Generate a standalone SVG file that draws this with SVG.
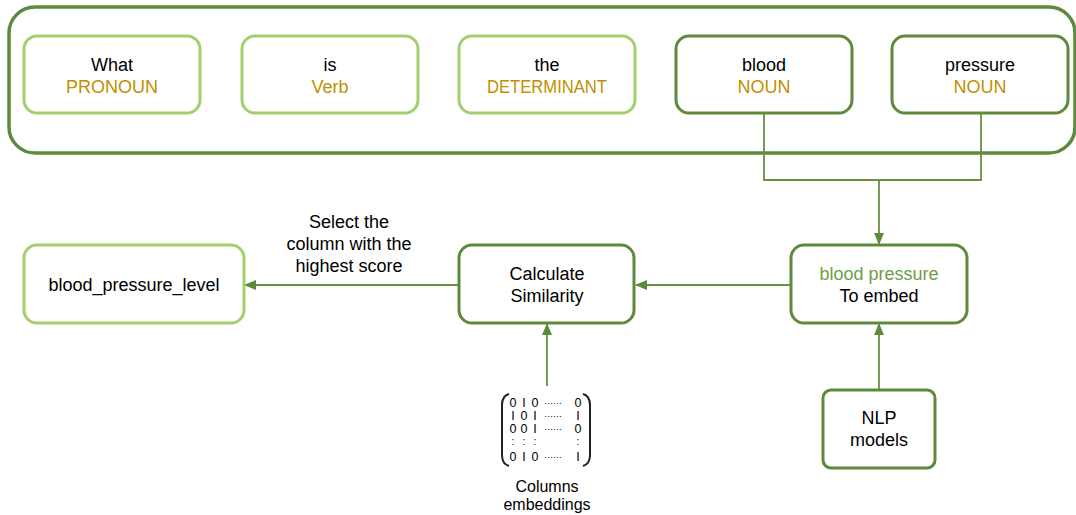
<svg xmlns="http://www.w3.org/2000/svg" width="1076" height="515" viewBox="0 0 1076 515">
<style>
text{font-family:"Liberation Sans",Arial,sans-serif;font-size:18px;fill:#000;text-anchor:middle}
.tag{fill:#BF9000}
.gr{fill:#6E9E47}
.light{fill:#fff;stroke:#A2D06C;stroke-width:3}
.dark{fill:#fff;stroke:#5E8A3C;stroke-width:3}
.conn{fill:none;stroke:#6A8F45;stroke-width:1.8}
.mx{font-size:12.5px}
.dots{font-size:9px}
.col{font-size:10px}
</style>
<defs>
<marker id="ah" viewBox="0 0 12 10" refX="11" refY="5" markerWidth="12" markerHeight="10" markerUnits="userSpaceOnUse" orient="auto">
<path d="M0,0 L12,5 L0,10 z" fill="#5E8A3C"/>
</marker>
</defs>
<rect id="sentence" x="9" y="7" width="1066" height="146" rx="26" fill="#fff" stroke="#5E8A3C" stroke-width="3.5"/>
<g id="connectors">
<path class="conn" d="M764,114 V180 H981 V114"/>
<path class="conn" d="M879,180 V244" marker-end="url(#ah)"/>
<path class="conn" d="M790,285 H636" marker-end="url(#ah)"/>
<path class="conn" d="M458,285 H245" marker-end="url(#ah)"/>
<path class="conn" d="M547,386 V324" marker-end="url(#ah)"/>
<path class="conn" d="M879,390 V324" marker-end="url(#ah)"/>
</g>
<g id="n-what"><rect class="light" x="24" y="36" width="176" height="77" rx="13"/><text x="112" y="71">What</text><text class="tag" x="112" y="93">PRONOUN</text></g>
<g id="n-is"><rect class="light" x="242" y="36" width="176" height="77" rx="13"/><text x="330" y="71">is</text><text class="tag" x="330" y="93">Verb</text></g>
<g id="n-the"><rect class="light" x="459" y="36" width="176" height="77" rx="13"/><text x="547" y="71">the</text><text class="tag" x="547" y="93" textLength="120" lengthAdjust="spacingAndGlyphs">DETERMINANT</text></g>
<g id="n-blood"><rect class="dark" x="676" y="36" width="176" height="77" rx="13"/><text x="764" y="71">blood</text><text class="tag" x="764" y="93">NOUN</text></g>
<g id="n-pressure"><rect class="dark" x="892" y="36" width="176" height="77" rx="13"/><text x="980" y="71">pressure</text><text class="tag" x="980" y="93">NOUN</text></g>
<g id="n-embed"><rect class="dark" x="791" y="245" width="176" height="78" rx="13"/><text class="gr" x="879" y="280">blood pressure</text><text x="879" y="302">To embed</text></g>
<g id="n-similarity"><rect class="dark" x="459" y="245" width="175" height="78" rx="13"/><text x="547" y="280">Calculate</text><text x="547" y="302">Similarity</text></g>
<g id="n-result"><rect class="light" x="24" y="245" width="220" height="78" rx="13"/><text x="134" y="291">blood_pressure_level</text></g>
<g id="label-select"><text x="349" y="228">Select the</text><text x="349" y="250">column with the</text><text x="349" y="272">highest score</text></g>
<g id="n-nlp"><rect class="dark" x="823" y="390" width="112" height="78" rx="8"/><text x="879" y="424">NLP</text><text x="879" y="446">models</text></g>
<g id="n-matrix">
<path d="M509,394 Q502,396 502,405 V455 Q502,464 509,466" fill="none" stroke="#222" stroke-width="2"/>
<path d="M583,394 Q590,396 590,405 V455 Q590,464 583,466" fill="none" stroke="#222" stroke-width="2"/>
<text class="mx" x="513" y="407">0</text><text class="mx" x="524" y="407">I</text><text class="mx" x="535" y="407">0</text><text class="dots" x="553" y="406">······</text><text class="mx" x="578" y="407">0</text>
<text class="mx" x="513" y="420">I</text><text class="mx" x="524" y="420">0</text><text class="mx" x="535" y="420">I</text><text class="dots" x="553" y="419">······</text><text class="mx" x="578" y="420">I</text>
<text class="mx" x="513" y="433">0</text><text class="mx" x="524" y="433">0</text><text class="mx" x="535" y="433">I</text><text class="dots" x="553" y="432">······</text><text class="mx" x="578" y="433">0</text>
<text class="col" x="513" y="445">:</text><text class="col" x="524" y="445">:</text><text class="col" x="535" y="445">:</text><text class="col" x="578" y="445">:</text>
<text class="mx" x="513" y="461">0</text><text class="mx" x="524" y="461">I</text><text class="mx" x="535" y="461">0</text><text class="dots" x="553" y="460">······</text><text class="mx" x="578" y="461">I</text>
<text x="547" y="492" style="font-size:16px">Columns</text>
<text x="547" y="510" style="font-size:16px">embeddings</text>
</g>
</svg>
